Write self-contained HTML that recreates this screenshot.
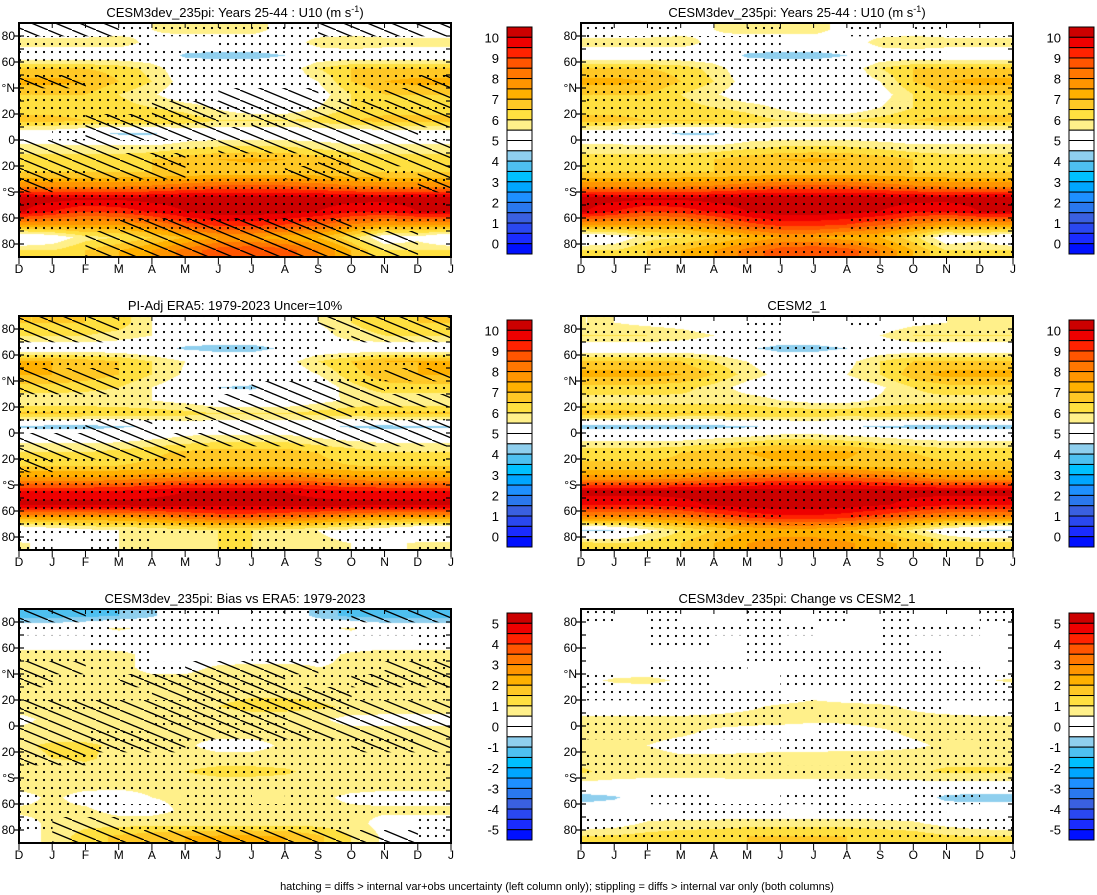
<!DOCTYPE html>
<html><head><meta charset="utf-8"><style>
body{margin:0;background:#fff}
#page{position:relative;width:1097px;height:895px;overflow:hidden;background:#fff;font-family:"Liberation Sans",sans-serif}
canvas{position:absolute}
svg{position:absolute;left:0;top:0}
</style></head><body>
<div id="page">
<svg id="ov" width="1097" height="895">
<defs>
<pattern id="stip" width="8" height="8" patternUnits="userSpaceOnUse"><circle cx="4" cy="4" r="1.1" fill="#000"/></pattern>
<pattern id="hatch" width="24" height="10" patternUnits="userSpaceOnUse"><line x1="0" y1="0" x2="24" y2="10" stroke="#000" stroke-width="1.3"/></pattern>
</defs>
<text x="557" y="890" text-anchor="middle" font-size="11">hatching = diffs &gt; internal var+obs uncertainty (left column only); stippling = diffs &gt; internal var only (both columns)</text>
</svg>
</div>
<script>
const months=["D","J","F","M","A","M","J","J","A","S","O","N","D","J"];
const lats=[85,75,65,55,45,35,25,15,5,-5,-15,-25,-35,-45,-55,-65,-75,-85];
const u10TickLabels=["10","9","8","7","6","5","4","3","2","1","0"];
const diffTickLabels=["5","4","3","2","1","0","-1","-2","-3","-4","-5"];
const yTickLabels=["80","60","°N","20","0","20","°S","60","80"];
const yTickLats=[80,60,40,20,0,-20,-40,-60,-80];
const cesm3U10=[
[5,5,5,5.2,5.5,5.8,5.8,5.8,5.2,5,5,5,5,5],
[5.8,5.8,5.8,5.8,5.3,5,5,5,5,5.8,6,5.8,5.8,5.8],
[5,5,5,5,5,4.4,4.3,4.3,4.5,5,5,5,5,5],
[6.5,6.5,6.5,6.3,5.8,5,5,5,5,6,6.5,6.5,6.5,6.5],
[7.2,7.2,7,6.5,6,5.2,5,5,5,5.5,6.5,7,7.2,7.2],
[6.5,6.5,6.5,6,5.6,5,5,5,5,5.2,6,6.5,6.5,6.5],
[6.2,6.2,6.2,6.2,6,5.8,5.4,5,5,5.5,6,6.2,6.2,6.2],
[6.7,6.7,6.5,6.5,6.5,6.3,6,6,6,6.2,6.5,6.7,6.7,6.7],
[5,5,4.8,4.4,4.4,5,5,5,5,5,5,5,5,5],
[5.6,5.6,5.6,5.6,5.6,5.8,6,6,6,5.8,5.6,5.6,5.6,5.6],
[6.3,6.3,6.3,6.3,6.5,6.8,7,7.1,7,6.8,6.5,6.3,6.3,6.3],
[6.5,6.5,6.5,6.5,6.5,6.5,6.7,6.7,6.7,6.6,6.5,6.5,6.5,6.5],
[7.8,7.8,7.8,7.8,8,8.3,8.5,8.5,8.5,8.3,8,7.8,7.8,7.8],
[10.3,10.2,10.1,10.1,10.2,10.3,10.3,10.3,10.3,10.3,10.2,10.2,10.3,10.3],
[10.1,9.5,9,9.2,9.6,10,10.3,10.3,10.2,10,9.6,9.5,10,10.1],
[7.5,7.5,7.5,7.5,8,8.8,9.2,9.2,9,8.6,8,7.5,7.5,7.5],
[4.6,5,5.8,6,6.5,7,7.5,7.5,7.2,7,6.2,5,5.3,4.6],
[6,6,6.5,7,7.5,8.2,8.8,9,8.8,8,7,6,6,6]];
const era5U10=[
[6.5,6.5,6.5,6.3,5.5,5,5,5,5,5.5,6,6.3,6.5,6.5],
[6,6,6,5.8,5.5,5,5,5,5,5.2,5.8,6,6,6],
[5,5,5,5,4.8,4.4,4.3,4.3,4.6,5,5,5,5,5],
[7,7,6.8,6.5,6,5.5,5,5,5.2,6,6.5,7,7,7],
[7,7,6.8,6.5,6,5.4,5,5,5,5.5,6.3,6.8,7,7],
[6.3,6.3,6.2,6,5.5,5,4.5,4.4,4.8,5,5.8,6.3,6.3,6.3],
[5.6,5.6,5.6,5.6,5.5,5.3,5,5,5,5.3,5.6,5.6,5.6,5.6],
[6.6,6.6,6.5,6.4,6.3,6.2,6,6,6,6.2,6.4,6.6,6.6,6.6],
[4.4,4.3,4.3,4.4,4.6,5,5,5,5,4.7,4.4,4.3,4.4,4.4],
[5.3,5.3,5.3,5.3,5.5,5.7,5.8,5.8,5.8,5.6,5.4,5.3,5.3,5.3],
[6,6,6,6.2,6.4,6.6,6.8,6.8,6.8,6.5,6.3,6,6,6],
[6.5,6.5,6.5,6.5,6.6,6.7,6.8,6.8,6.8,6.6,6.5,6.5,6.5,6.5],
[7.6,7.6,7.6,7.8,8,8.2,8.3,8.3,8.3,8.1,7.8,7.6,7.6,7.6],
[9.6,9.6,9.6,9.6,9.8,10,10,10,10,9.8,9.6,9.6,9.6,9.6],
[10.2,10.2,10.2,10.2,10.2,10.2,10.2,10.2,10.2,10.2,10.2,10.2,10.2,10.2],
[7.4,7.4,7.4,7.5,7.8,8.2,8.5,8.5,8.3,8,7.6,7.4,7.4,7.4],
[4.6,5,5.3,5.5,5.5,5.8,6,6,5.8,5.5,5.3,5,4.6,4.6],
[5.6,5.3,5.3,5.5,5.6,5.8,6,6,5.8,5.6,5.5,5.3,5.6,5.6]];
const cesm2U10=[
[5.5,5.5,5.3,5.2,5,5,5,5,5,5,5.3,5.5,5.5,5.5],
[6,6,6,5.8,5.5,5.2,5,5,5.2,5.5,6,6,6,6],
[5,5,5,5,5,4.6,4.3,4.3,4.5,5,5,5,5,5],
[6.6,6.6,6.6,6.5,6,5.5,5,5,5.3,6,6.5,6.6,6.6,6.6],
[7.2,7.2,7.2,7,6.5,5.8,5.3,5.2,5.5,6,6.8,7.2,7.2,7.2],
[6.3,6.3,6.3,6.2,5.8,5.2,5,5,5,5.4,6,6.3,6.3,6.3],
[5.8,5.8,5.8,5.8,5.8,5.8,5.5,5.3,5.3,5.6,5.8,5.8,5.8,5.8],
[6.8,6.8,6.6,6.5,6.5,6.5,6.4,6.4,6.4,6.5,6.6,6.8,6.8,6.8],
[4.3,4.3,4.3,4.3,4.3,4.4,4.7,4.8,4.6,4.4,4.3,4.3,4.3,4.3],
[5.4,5.4,5.4,5.4,5.6,5.8,6,6,5.9,5.7,5.5,5.4,5.4,5.4],
[6.3,6.3,6.3,6.5,6.8,7,7.2,7.2,7.1,6.8,6.5,6.3,6.3,6.3],
[6.6,6.6,6.6,6.6,6.7,6.8,6.9,6.9,6.9,6.8,6.7,6.6,6.6,6.6],
[7.8,7.8,7.8,8,8.3,8.5,8.7,8.7,8.7,8.5,8.2,7.8,7.8,7.8],
[10.2,10.2,10.2,10.2,10.2,10.3,10.3,10.3,10.3,10.3,10.2,10.2,10.2,10.2],
[9.6,9.6,9.6,9.8,10.1,10.3,10.4,10.4,10.3,10.1,9.8,9.6,9.6,9.6],
[7.8,7.8,7.8,8,8.5,9,9.3,9.3,9.1,8.7,8.2,7.8,7.8,7.8],
[4.4,4.5,5.3,6,6.5,7,7.2,7.2,7,6.5,5.8,5,4.5,4.4],
[6.2,6,6.2,6.5,7,7.5,7.8,7.8,7.6,7.2,6.8,6.3,6.2,6.2]];
const biasEra5=[
[-1.2,-1.2,-1.2,-1.0,-0.6,0,0,0,0,-0.7,-1.2,-1.2,-1.2,-1.2],
[0,0,0.3,0.6,0.3,0,0,0,0,0.3,0.6,0,0,0],
[0,0,0,0,0,0,0,0,0,0,0,0,0,0],
[0.8,0.8,0.8,0.7,0.3,0,0,0,0,0.3,0.6,0.8,0.8,0.8],
[0.8,0.8,0.8,0.6,0.4,0.3,0.6,0.7,0.7,0.5,0.6,0.8,0.8,0.8],
[0.6,0.6,0.6,0.6,0.6,0.7,0.8,0.8,0.8,0.7,0.6,0.6,0.6,0.6],
[0.7,0.7,0.7,0.7,0.7,0.8,0.8,0.9,0.9,0.8,0.7,0.7,0.7,0.7],
[0.8,0.8,0.7,0.7,0.7,0.8,1.0,1.2,1.2,1.1,0.9,0.8,0.8,0.8],
[0.3,0.7,0.7,0.7,0.7,0.7,0.7,0.7,0.7,0.6,0.3,0.3,0.3,0.3],
[0.7,0.7,0.7,0.7,0.7,0.6,0.7,0.7,0.7,0.7,0.7,0.7,0.7,0.7],
[0.9,1.1,1.1,0.9,0.7,0.6,0.3,0.3,0.6,0.7,0.7,0.8,0.9,0.9],
[0.8,1.0,1.1,0.8,0.7,0.7,0.7,0.7,0.7,0.7,0.7,0.8,0.8,0.8],
[0.7,0.7,0.7,0.7,0.8,1.0,1.2,1.2,1.1,0.8,0.7,0.7,0.7,0.7],
[0.7,0.7,0.7,0.7,0.7,0.7,0.7,0.7,0.7,0.7,0.7,0.7,0.7,0.7],
[0.3,0.6,0.3,0.2,0.5,0.6,0.7,0.7,0.7,0.6,0.4,0.3,0.3,0.3],
[0.6,0.6,0.6,0.3,0.3,0.6,0.7,0.7,0.7,0.6,0.6,0.6,0.6,0.6],
[0.3,0.6,0.8,0.8,0.8,0.8,0.8,0.8,0.8,0.8,0.7,0.3,0.3,0.3],
[0.3,0.6,1.3,1.6,1.8,2.0,2.1,2.1,2.0,1.6,1.0,0.4,0.3,0.3]];
const changeCesm2=[
[0,0,0,0,0,0,0,0,0,0,0,0,0,0],
[0,0,0,0,0,0,0,0,0,0,0,0,0,0],
[0,0,0,0,0,0,0,0,0,0,0,0,0,0],
[0,0,0,0,0,0,0,0,0,0,0,0,0,0],
[0,0,0,0,0,0,0,0,0,0,0,0,0,0],
[0.3,0.6,0.7,0.4,0,0,0,0,0,0,0,0,0.4,0.6],
[0,0,0,0,0,0,0,0.3,0,0,0,0,0,0],
[0,0,0,0,0.2,0.4,0.6,0.7,0.7,0.6,0.4,0.2,0,0],
[0.7,0.7,0.7,0.7,0.7,0.7,0.7,0.6,0.6,0.7,0.7,0.7,0.7,0.7],
[0.7,0.7,0.7,0.6,0.4,0.3,0.2,0.2,0.3,0.4,0.6,0.7,0.7,0.7],
[0.6,0.7,0.5,0.3,0.3,0.2,0.2,0.2,0.3,0.3,0.4,0.6,0.7,0.6],
[0.8,0.8,0.7,0.6,0.6,0.7,0.8,0.8,0.8,0.8,0.8,0.8,0.8,0.8],
[1.1,0.8,0.7,0.7,0.7,0.8,0.8,0.8,0.8,0.8,0.9,1.1,1.1,1.1],
[0.3,0.3,0.3,0.3,0.3,0.3,0.3,0.3,0.3,0.3,0.3,0.3,0.3,0.3],
[-0.8,-0.6,0,0,-0.3,0,0,0,0,-0.5,0,-0.7,-0.8,-0.8],
[0,0,0,0,0,0,0,0,0,0,0,0,0,0],
[0,0.2,0.6,0.7,0.7,0.8,0.8,0.8,0.8,0.7,0.6,0.3,0.1,0],
[1.0,1.1,1.2,1.3,1.4,1.5,1.5,1.5,1.5,1.4,1.3,1.1,1.0,1.0]];
const mask1=["///......////","....  ......",".............",".............","xx..........x","......///..//","....xxxxxxxxx","..xxxx.x/////"," .//////////.","///...///////","////x....x///","xx///...xx/./","x...........x",".............",".............","...xxxxxxx...","  ////////// ","  ////////// "];
const mask2=["///......////","///.......///","..... ...  ..",".............","///........//","///....////..","......///////","...../////...","..//..///////","/////////////","/////........","x............",".............",".............",".............",".............",".............",". ..  .. .. ."];
const mask3=["//.... ...///",".............","  ........  .","....   ......","//...////../x","x..xxxxx..xxx","..../xxxxx...","xxx/xxxxxx///","////xxxx/////","//xx//xxx////","//xxx.....xx/","xx...........",".............",".............","...  .. .....",".............",".//.......  .", " ///////////."];
const mask4=[". .  .  . .  ","......   ....","  .........  ",".............",".............","......... ...",".............",".............",".............",".............",".............",".............",".............",".............",".............","......  .....",".............","............."];
const mask5=[". .  . . .  .","  .....  ... ","  .. .   .   ","     ......  ","  ...  .....  ",". ..  .......","......  .....","  ..... ...  ","...... ......","...... ......","  ..  ..... .","......  .....",".............","       ......","  ..  ..  .. ","   ... ....  ",".............","............."];

const colorsTop=["#cc0000","#ee0000","#ff2200","#ff5500","#ff7700","#ff9500","#ffb000","#ffc825","#ffe040","#fff08a","#ffffff","#ffffff","#8fcfee","#4ec0f0","#00c0ff","#00a6ff","#1e90ff","#2a78ee","#3a60e0","#2a48f0","#1a2cff","#0010ff"];

const panels=[
 {name:"cesm3-u10",title:"CESM3dev_235pi: Years 25-44 : U10 (m s",sup:true,x:19,y:23,data:cesm3U10,lo:0,mask:mask1,cb:507,labels:u10TickLabels},
 {name:"cesm3-u10-stipple",title:"CESM3dev_235pi: Years 25-44 : U10 (m s",sup:true,x:581,y:23,data:cesm3U10,lo:0,mask:mask4.map(s=>s.replace(/\./g,".")),cb:1069,labels:u10TickLabels,right:true},
 {name:"era5-u10",title:"PI-Adj ERA5: 1979-2023 Uncer=10%",x:19,y:316,data:era5U10,lo:0,mask:mask2,cb:507,labels:u10TickLabels},
 {name:"cesm2-u10",title:"CESM2_1",x:581,y:316,data:cesm2U10,lo:0,mask:mask4,cb:1069,labels:u10TickLabels},
 {name:"bias-vs-era5",title:"CESM3dev_235pi: Bias vs ERA5: 1979-2023",x:19,y:609,data:biasEra5,lo:-5,mask:mask3,cb:507,labels:diffTickLabels},
 {name:"change-vs-cesm2",title:"CESM3dev_235pi: Change vs CESM2_1",x:581,y:609,data:changeCesm2,lo:-5,mask:mask5,cb:1069,labels:diffTickLabels}
];
const W=432,H=234;
const page=document.getElementById('page');
const ov=document.getElementById('ov');
const NS="http://www.w3.org/2000/svg";
function mk(tag,attrs,parent){const e=document.createElementNS(NS,tag);for(const k in attrs)e.setAttribute(k,attrs[k]);(parent||ov).appendChild(e);return e;}
function hex(c){return [parseInt(c.substr(1,2),16),parseInt(c.substr(3,2),16),parseInt(c.substr(5,2),16)];}
const rgb=colorsTop.map(hex);
function xScale(p,i){return p.x+i*W/(months.length-1);}
function yScale(p,lat){return p.y+(90-lat)/180*H;}
function levelColor(v,lo){let idx=Math.floor((v-lo)/0.5)+1;idx=Math.max(0,Math.min(21,idx));return rgb[21-idx];}
function sample(d,c,r){
 const nr=lats.length,nc=months.length;
 r=Math.max(0,Math.min(nr-1,r));c=Math.max(0,Math.min(nc-1,c));
 const r0=Math.min(nr-2,Math.floor(r)),c0=Math.min(nc-2,Math.floor(c));
 const fr=r-r0,fc=c-c0;
 const a=d[r0][c0],b=d[r0][c0+1],e=d[r0+1][c0],f=d[r0+1][c0+1];
 return (a*(1-fc)+b*fc)*(1-fr)+(e*(1-fc)+f*fc)*fr;
}
panels.forEach((p,pi)=>{
 const cv=document.createElement('canvas');
 cv.width=W;cv.height=H;cv.style.left=p.x+'px';cv.style.top=p.y+'px';
 
 
 page.insertBefore(cv,ov);
 const ctx=cv.getContext('2d');const img=ctx.createImageData(W,H);
 for(let py=0;py<H;py++){
  const lat=90-(py+0.5)/H*180;
  const r=(lats[0]-lat)/10;
  for(let px=0;px<W;px++){
   const c=(px+0.5)/W*(months.length-1);
   const col=levelColor(sample(p.data,c,r),p.lo);
   const k=(py*W+px)*4;img.data[k]=col[0];img.data[k+1]=col[1];img.data[k+2]=col[2];img.data[k+3]=255;
  }
 }
 ctx.putImageData(img,0,0);
 const g=mk('g',{});
 
 
 // masks
 const nC=months.length-1,nR=lats.length;
 const mg=mk('g',{},g);
 
 
 p.mask.forEach((row,j)=>{
  for(let i=0;i<nC;i++){
   const ch=row[i]||' ';
   const x=xScale(p,i),w=W/nC,y=p.y+j*H/nR,h=H/nR;
   if(ch==='.'||ch==='x'){const r=mk('rect',{x:x,y:y,width:w+0.3,height:h+0.3,fill:'url(#stip)'},mg);}
   if(ch==='/'||ch==='x'){const r=mk('rect',{x:x,y:y,width:w+0.3,height:h+0.3,fill:'url(#hatch)'},mg);}
  }
 });
 // frame
 const fr=mk('rect',{x:p.x,y:p.y,width:W,height:H,fill:'none',stroke:'#000','stroke-width':2},g);
 
 
 // x ticks
 months.forEach((m,i)=>{
  const x=xScale(p,i);
  const t1=mk('line',{x1:x,y1:p.y+H,x2:x,y2:p.y+H+7,stroke:'#000','stroke-width':1},g);
  
  
  const t2=mk('line',{x1:x,y1:p.y,x2:x,y2:p.y+5,stroke:'#000','stroke-width':1},g);
  
  
  const lb=mk('text',{x:x,y:p.y+H+16,'text-anchor':'middle','font-size':12},g);lb.textContent=m;
  
  
 });
 // y ticks
 for(let lat=-80;lat<=80;lat+=10){
  const y=yScale(p,lat);const major=(lat%20===0);
  const t=mk('line',{x1:p.x-(major?5:0),y1:y,x2:p.x+5,y2:y,stroke:'#000','stroke-width':1.2},g);
  
  
  const t2=mk('line',{x1:p.x+W-5,y1:y,x2:p.x+W,y2:y,stroke:'#000','stroke-width':1.2},g);
  
  
 }
 yTickLats.forEach((lat,i)=>{
  const lb=mk('text',{x:p.x-4,y:yScale(p,lat)+4,'text-anchor':'end','font-size':12},g);lb.textContent=yTickLabels[i];
  
  
 });
 // title
 const tt=mk('text',{x:p.x+W/2,y:p.y-6,'text-anchor':'middle','font-size':13},g);
 tt.textContent=p.title;
 if(p.sup){const s=mk('tspan',{'font-size':9,dy:-5},tt);s.textContent='-1';const s2=mk('tspan',{dy:5},tt);s2.textContent=')';}
 
 
 // colorbar
 const cb=mk('g',{},g);
 
 
 const cy0=p.y+4,cy1=p.y+H-3,bh=(cy1-cy0)/colorsTop.length;
 colorsTop.forEach((c,k)=>{
  const r=mk('rect',{x:p.cb,y:cy0+k*bh,width:25,height:bh,fill:c,stroke:'#000','stroke-width':1},cb);
  
  
 });
 p.labels.forEach((l,k)=>{
  const t=mk('text',{x:p.cb-8,y:cy0+(2*k+1)*bh+5,'text-anchor':'end','font-size':13},cb);t.textContent=l;
  
  
 });
});
</script>
</body></html>
